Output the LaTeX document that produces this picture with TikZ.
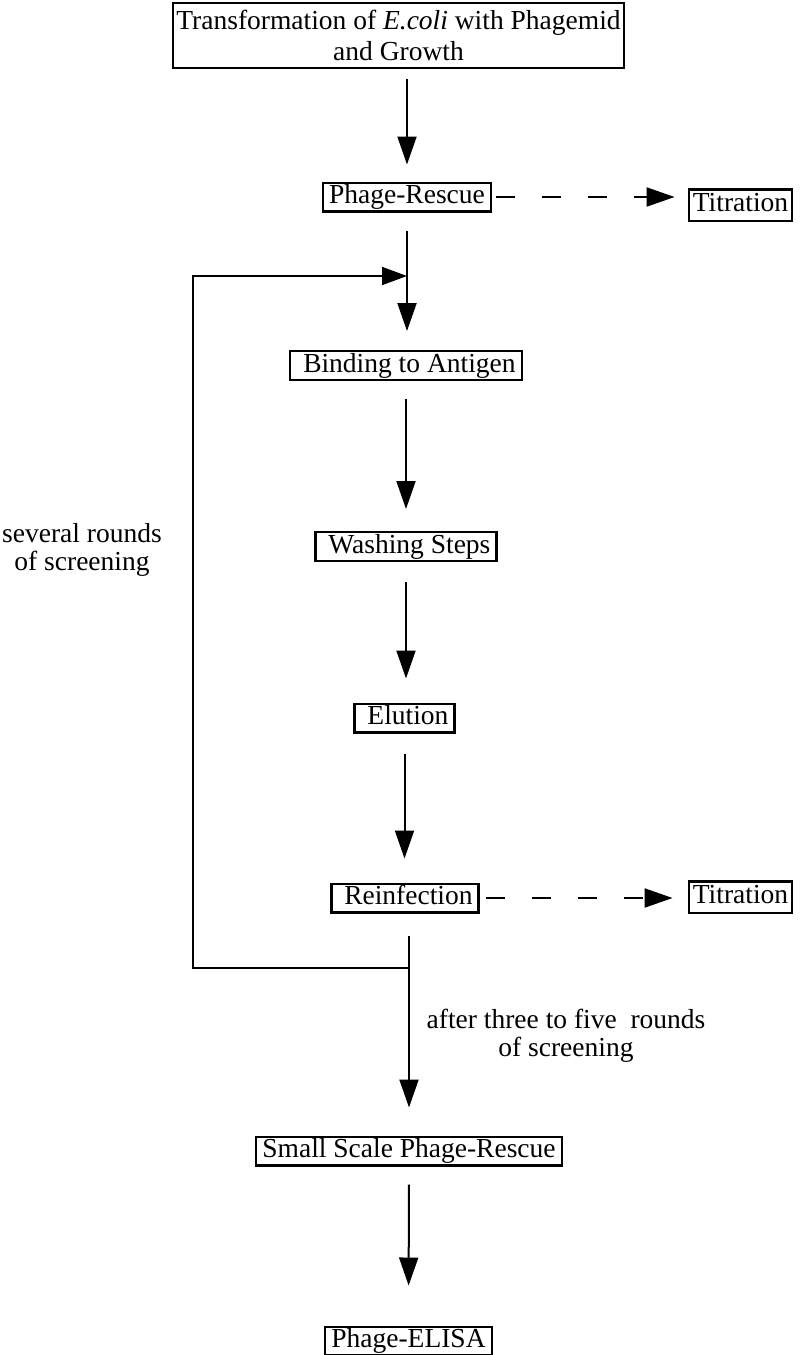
\documentclass[tikz,border=0pt]{standalone}
\usepackage{fontspec}
\setmainfont{Liberation Serif}
\usetikzlibrary{arrows.meta}
\begin{document}
\begin{tikzpicture}[x=0.5pt, y=-0.5pt,
  every node/.style={font=\fontsize{13.75pt}{15.5pt}\selectfont},
  topbox/.style={draw, line width=1.1pt, align=center, inner xsep=1.5pt, inner ysep=3.5pt},
  stepbox/.style={draw, line width=1.1pt, inner xsep=3pt, inner ysep=0.8pt,
    text height=9.8pt, text depth=3pt},
  titbox/.style={stepbox, line width=1.3pt, inner xsep=2pt, inner ysep=1.5pt},
  flow/.style={line width=1pt, -{Triangle[length=14pt, width=9.5pt]}},
  side/.style={flow, dash pattern=on 9.5pt off 13.5pt},
  loopline/.style={line width=0.85pt, -{Triangle[length=12.5pt, width=9pt]}},
  note/.style={align=center, inner sep=0pt, font=\fontsize{13.75pt}{14pt}\selectfont}
]
\useasboundingbox (0,0) rectangle (802,1355);

% main sequence of steps
\node[topbox] (tr) at (398.5,35.5) {Transformation of \textit{E.coli} with Phagemid\\and Growth};
\node[stepbox] (pr) at (407,197) {Phage-Rescue};
\node[titbox] (t1) at (740.5,205) {Titration};
\node[stepbox] (ba) at (406,365.5) {~Binding to Antigen};
\node[stepbox] (ws) at (406,546.5) {~Washing Steps};
\node[stepbox] (el) at (404.5,718) {~Elution};
\node[stepbox] (re) at (405,898) {~Reinfection};
\node[titbox] (t2) at (740.5,897) {Titration};
\node[stepbox] (ss) at (409,1151) {Small Scale Phage-Rescue};
\node[stepbox] (pe) at (408.5,1341) {Phage-ELISA};

% side notes
\node[note] (n1) at (82,549.6) {several rounds\\of screening};
\node[note] (n2) at (566,1036) {after three to five\ \ rounds\\of screening};

% corners of the screening loop
\coordinate (j1) at (409,968);
\coordinate (lb) at (193,968);
\coordinate (lt) at (193,276);
\coordinate (j2) at (407,276);

% vertical flow
\draw[flow, shorten <=5pt, shorten >=8.5pt] (pr.north |- tr.south) -- (pr.north);
\draw[flow, shorten <=9pt, shorten >=9.5pt] (pr.south) -- (pr.south |- ba.north);
\draw[flow, shorten <=9pt, shorten >=11pt] (ba.south) -- (ba.south |- ws.north);
\draw[flow, shorten <=10pt, shorten >=12pt] (ws.south) -- (ws.south |- el.north);
\draw[flow, shorten <=10pt, shorten >=12pt] (el.south) -- (el.south |- re.north);
\draw[flow, shorten <=11pt, shorten >=14pt] (ss.north |- re.south) -- (ss.north);
\draw[flow, shorten <=9pt, shorten >=20pt] (ss.south) -- (pe.north);

% titration branches
\draw[side, shorten <=2pt, shorten >=6.5pt] (pr.east) -- (pr.east -| t1.west);
\draw[side, shorten <=3pt, shorten >=7.5pt] (re.east) -- (re.east -| t2.west);

% feedback loop
\draw[loopline] (j1) -- (lb) -- (lt) -- (j2);
\end{tikzpicture}
\end{document}
